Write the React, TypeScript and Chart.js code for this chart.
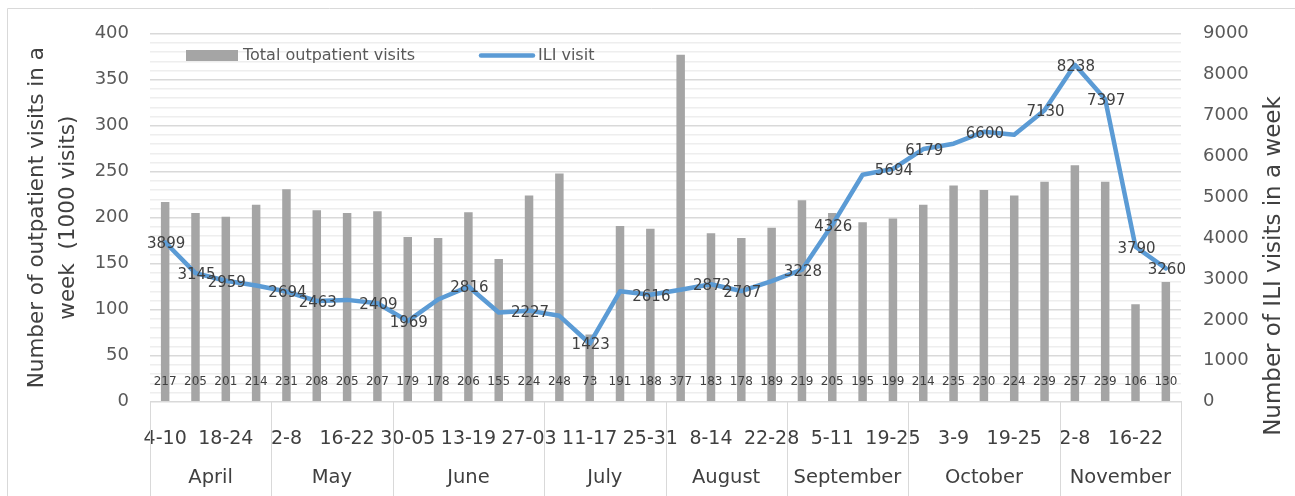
import React, { useEffect, useRef } from 'react';
import { Chart, registerables } from 'chart.js';

Chart.register(...registerables);

const months = ['April', 'May', 'June', 'July', 'August', 'September', 'October', 'November'];
const monthSizes = [4, 4, 5, 4, 4, 4, 5, 4];
const weekLabels = [
  '4-10', '11-17', '18-24', '25-01',
  '2-8', '9-15', '16-22', '23-29',
  '30-05', '6-12', '13-19', '20-26', '27-03',
  '4-10', '11-17', '18-24', '25-31',
  '1-7', '8-14', '15-21', '22-28',
  '29-04', '5-11', '12-18', '19-25',
  '26-02', '3-9', '10-16', '19-25', '26-01',
  '2-8', '9-15', '16-22', '23-29',
];
const outpatient = [
  217, 205, 201, 214,
  231, 208, 205, 207,
  179, 178, 206, 155, 224,
  248, 73, 191, 188,
  377, 183, 178, 189,
  219, 205, 195, 199,
  214, 235, 230, 224, 239,
  257, 239, 106, 130,
];
const iliVisits = [
  3899, 3145, 2959, 2840,
  2694, 2463, 2490, 2409,
  1969, 2500, 2816, 2180, 2227,
  2100, 1423, 2700, 2616,
  2740, 2872, 2707, 2950,
  3228, 4326, 5550, 5694,
  6179, 6310, 6600, 6530, 7130,
  8238, 7397, 3790, 3260,
];
const iliLabels: (number | null)[] = [
  3899, 3145, 2959, null,
  2694, 2463, null, 2409,
  1969, null, 2816, null, 2227,
  null, 1423, null, 2616,
  null, 2872, 2707, null,
  3228, 4326, null, 5694,
  6179, null, 6600, null, 7130,
  8238, 7397, 3790, 3260,
];
const leftTicks = [0, 50, 100, 150, 200, 250, 300, 350, 400];
const rightTicks = [0, 1000, 2000, 3000, 4000, 5000, 6000, 7000, 8000, 9000];
const leftTitle = ['Number of outpatient visits in a', 'week  (1000 visits)'];
const rightTitle = 'Number of ILI visits in a week';
const barName = 'Total outpatient visits';
const lineName = 'ILI visit';

const FONT = '"DejaVu Sans", "Noto Sans", sans-serif';
const W = 1295;
const H = 496;

const overlay = {
  id: 'overlay',
  afterDraw(chart: any) {
    const ctx = chart.ctx as CanvasRenderingContext2D;
    const xs = chart.scales.x;
    const ys = chart.scales.y;
    const area = chart.chartArea;
    ctx.save();

    // chart border
    ctx.strokeStyle = '#D9D9D9';
    ctx.lineWidth = 1;
    ctx.beginPath();
    ctx.moveTo(7.5, H);
    ctx.lineTo(7.5, 8.5);
    ctx.lineTo(W, 8.5);
    ctx.stroke();

    // bar value labels
    const barMeta = chart.getDatasetMeta(1);
    ctx.font = `12px ${FONT}`;
    ctx.fillStyle = '#404040';
    ctx.textAlign = 'center';
    ctx.textBaseline = 'middle';
    const base = ys.getPixelForValue(0);
    barMeta.data.forEach((el: any, i: number) => {
      ctx.fillText(String(outpatient[i]), el.x, base - 20);
    });

    // line value labels
    const lineMeta = chart.getDatasetMeta(0);
    ctx.font = `15px ${FONT}`;
    lineMeta.data.forEach((el: any, i: number) => {
      const v = iliLabels[i];
      if (v == null) return;
      ctx.fillText(String(v), el.x + 1, el.y + 2);
    });

    // month separators & labels
    const n = outpatient.length;
    const catW = (xs.right - xs.left) / n;
    ctx.strokeStyle = '#D9D9D9';
    ctx.lineWidth = 1;
    let start = 0;
    const bounds = [0];
    monthSizes.forEach((s) => { start += s; bounds.push(start); });
    bounds.forEach((b) => {
      const px = Math.round(xs.left + b * catW) + 0.5;
      ctx.beginPath();
      ctx.moveTo(px, area.bottom);
      ctx.lineTo(px, H);
      ctx.stroke();
    });
    ctx.font = `19.5px ${FONT}`;
    ctx.fillStyle = '#404040';
    months.forEach((m, i) => {
      const cx = xs.left + ((bounds[i] + bounds[i + 1]) / 2) * catW;
      ctx.fillText(m, cx, 478);
    });

    // axis titles
    ctx.fillStyle = '#404040';
    ctx.font = `21.5px ${FONT}`;
    const cy = (area.top + area.bottom) / 2;
    ctx.save();
    ctx.translate(37, cy);
    ctx.rotate(-Math.PI / 2);
    ctx.fillText(leftTitle[0], 0, 0);
    ctx.restore();
    ctx.save();
    ctx.translate(68, cy);
    ctx.rotate(-Math.PI / 2);
    ctx.fillText(leftTitle[1], 0, 0);
    ctx.restore();
    ctx.save();
    ctx.font = `23px ${FONT}`;
    ctx.translate(1274, 266);
    ctx.rotate(-Math.PI / 2);
    ctx.fillText(rightTitle, 0, 0);
    ctx.restore();

    // legend
    ctx.fillStyle = '#A5A5A5';
    ctx.fillRect(186, 50, 52, 11);
    ctx.font = `16px ${FONT}`;
    ctx.fillStyle = '#595959';
    ctx.textAlign = 'left';
    ctx.fillText(barName, 243, 56);
    ctx.strokeStyle = '#5B9BD5';
    ctx.lineWidth = 4.5;
    ctx.lineCap = 'round';
    ctx.beginPath();
    ctx.moveTo(481, 55.5);
    ctx.lineTo(533, 55.5);
    ctx.stroke();
    ctx.fillText(lineName, 538, 56);

    ctx.restore();
  },
};

export default function App() {
  const ref = useRef<HTMLCanvasElement>(null);
  useEffect(() => {
    if (!ref.current) return;
    const chart = new Chart(ref.current, {
      type: 'bar',
      data: {
        labels: weekLabels,
        datasets: [
          {
            type: 'line',
            label: lineName,
            data: iliVisits,
            yAxisID: 'y1',
            borderColor: '#5B9BD5',
            backgroundColor: '#5B9BD5',
            borderWidth: 4.5,
            pointRadius: 0,
            tension: 0,
            borderJoinStyle: 'round',
            borderCapStyle: 'round',
            order: 0,
          } as any,
          {
            type: 'bar',
            label: barName,
            data: outpatient,
            yAxisID: 'y',
            backgroundColor: '#A5A5A5',
            barPercentage: 0.28,
            categoryPercentage: 1,
            order: 1,
          },
        ],
      },
      options: {
        responsive: false,
        animation: false,
        layout: { padding: { top: 33.7, left: 0, right: 0, bottom: 0 } },
        plugins: { legend: { display: false }, tooltip: { enabled: false } },
        scales: {
          x: {
            offset: true,
            grid: { display: false, drawTicks: false },
            border: { display: true, color: '#D9D9D9' },
            ticks: {
              autoSkip: false,
              maxRotation: 0,
              minRotation: 0,
              padding: 26,
              color: '#404040',
              font: { family: FONT, size: 19 },
              callback: (_v: any, i: number) => (i % 2 === 0 ? weekLabels[i] : ''),
            },
            afterFit: (s: any) => { s.height = 94.3; },
          },
          y: {
            position: 'left',
            min: 0,
            max: 400,
            border: { display: false },
            grid: {
              drawTicks: false,
              color: (c: any) => (c.tick && c.tick.value % 50 === 0 ? '#D9D9D9' : '#EEEEEE'),
              lineWidth: 1.5,
            },
            ticks: {
              stepSize: 10,
              autoSkip: false,
              padding: 21,
              color: '#595959',
              font: { family: FONT, size: 18 },
              callback: (v: any) => (leftTicks.includes(Number(v)) ? String(v) : ''),
            },
            afterFit: (s: any) => { s.width = 150; },
          },
          y1: {
            position: 'right',
            min: 0,
            max: 9000,
            border: { display: false },
            grid: { display: false, drawTicks: false },
            ticks: {
              stepSize: 1000,
              padding: 22,
              color: '#595959',
              font: { family: FONT, size: 18 },
              callback: (v: any) => (rightTicks.includes(Number(v)) ? String(v) : ''),
            },
            afterFit: (s: any) => { s.width = 114; },
          },
        },
      },
      plugins: [overlay],
    });
    return () => chart.destroy();
  }, []);
  return (
    <div style={{ position: 'fixed', left: 0, top: 0, width: W, height: H, background: '#fff' }}>
      <canvas ref={ref} width={W} height={H} style={{ display: 'block' }} />
    </div>
  );
}
